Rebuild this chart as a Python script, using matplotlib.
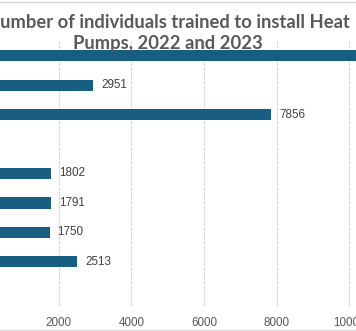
import numpy as np
import matplotlib
matplotlib.use("Agg")
import matplotlib.pyplot as plt
from matplotlib.lines import Line2D

# categories (top to bottom); labels sit left of the visible crop
categories = ["Total", "2022", "2023", "", "Q1 2023", "Q2 2023", "Q3 2023", "Q4 2023", ""]
values = [10807, 2951, 7856, np.nan, 1802, 1791, 1750, 2513, np.nan]
xticks = [0, 2000, 4000, 6000, 8000, 10000, 12000]

title = "Number of individuals trained to install Heat\nPumps, 2022 and 2023"
bar_color = "#175e80"
text_gray = "#595959"

W, H = 356, 331
fig = plt.figure(figsize=(W / 100, H / 100), dpi=100)

# axes extends past the left/right edges (the picture is a crop)
px_per_unit = 0.03633
left_px, top_px, bottom_px = -14, 41, 306
xmax = 12000
ax = fig.add_axes([left_px / W, 1 - bottom_px / H,
                   xmax * px_per_unit / W, (bottom_px - top_px) / H])

ypos = np.arange(len(categories))
ax.barh(ypos, values, height=0.38, color=bar_color, zorder=3)
ax.set_ylim(len(categories) - 0.5, -0.5)
ax.set_xlim(0, xmax)
ax.set_yticks(ypos)
ax.set_yticklabels(categories)
ax.set_xticks(xticks)
ax.set_xticklabels([str(t) for t in xticks])
ax.tick_params(axis="x", length=0, pad=8, labelsize=8.4, labelcolor=text_gray)
ax.tick_params(axis="y", length=0, labelsize=8.4, labelcolor=text_gray)
for t in ax.get_xticklabels() + ax.get_yticklabels():
    t.set_fontfamily("Liberation Sans")
ax.grid(axis="x", color="#d4d4d4", lw=0.8, ls=(0, (3, 1)), zorder=0)
for s in ax.spines.values():
    s.set_visible(False)

# data labels
for y, v in zip(ypos, values):
    if np.isnan(v):
        continue
    ax.text(v + 220, y, str(v), va="center", ha="left", fontsize=8.4,
            color="#404040", family="Liberation Sans")

fig.text(168 / W, 1 - 33 / H, title, ha="center", va="center",
         fontsize=13.2, fontweight="bold", color=text_gray, family="Lato",
         linespacing=1.25)

# chart border (top and bottom visible in the crop)
fig.add_artist(Line2D([0, 1], [1 - 1.5 / H, 1 - 1.5 / H], color="#d9d9d9", lw=1))
fig.add_artist(Line2D([0, 1], [1.5 / H, 1.5 / H], color="#d9d9d9", lw=1))

fig.savefig("out.png", dpi=100)
